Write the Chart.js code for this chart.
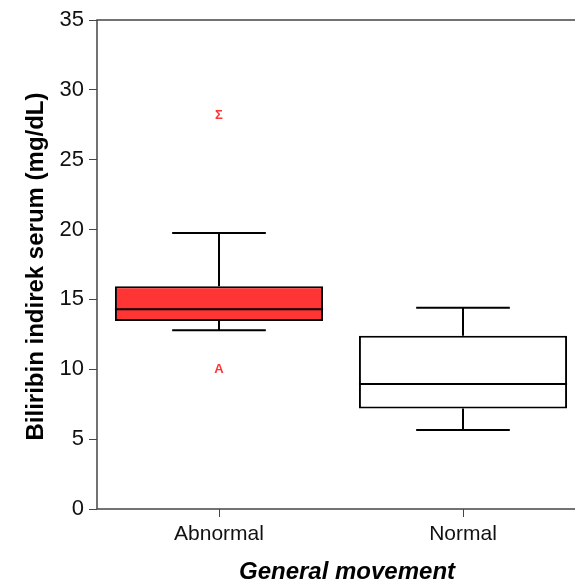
<!DOCTYPE html>
<html>
<head>
<meta charset="utf-8">
<script src="https://cdn.jsdelivr.net/npm/chart.js@4"></script>
<style>
  html, body { margin: 0; padding: 0; background: #fff; overflow: hidden; }
  canvas { display: block; }
</style>
</head>
<body>
<canvas id="js--box_chart" width="590" height="583"></canvas>
<script>
var groups = ['Abnormal', 'Normal'];
var whiskerLow = [12.8, 5.65];
var q1 = [13.45, 7.2];
var median = [14.3, 8.95];
var q3 = [15.95, 12.4];
var whiskerHigh = [19.75, 14.4];
var boxColors = ['#FF3434', '#FFFFFF'];

var outlierGroup = ['Abnormal', 'Abnormal'];
var outlierValue = [28.2, 10.0];
var outlierMark = ['Σ', 'A'];

var yTicks = [0, 5, 10, 15, 20, 25, 30, 35];

var boxes = groups.map(function (g, i) { return [q1[i], q3[i]]; });

var boxPlugin = {
    id: 'boxParts',
    afterDatasetsDraw: function (chart) {
        var ctx = chart.ctx;
        var x = chart.scales.x;
        var y = chart.scales.y;
        var meta = chart.getDatasetMeta(0);
        ctx.save();
        ctx.strokeStyle = '#000';
        ctx.lineWidth = 2;
        groups.forEach(function (g, i) {
            var bar = meta.data[i];
            var cx = x.getPixelForValue(i);
            var half = bar.width / 2;
            var cap = bar.width * 0.225;
            ctx.beginPath();
            // median
            ctx.moveTo(cx - half, y.getPixelForValue(median[i]));
            ctx.lineTo(cx + half, y.getPixelForValue(median[i]));
            // whiskers
            ctx.moveTo(cx, y.getPixelForValue(q3[i]));
            ctx.lineTo(cx, y.getPixelForValue(whiskerHigh[i]));
            ctx.moveTo(cx, y.getPixelForValue(q1[i]));
            ctx.lineTo(cx, y.getPixelForValue(whiskerLow[i]));
            // caps
            ctx.moveTo(cx - cap, y.getPixelForValue(whiskerHigh[i]));
            ctx.lineTo(cx + cap, y.getPixelForValue(whiskerHigh[i]));
            ctx.moveTo(cx - cap, y.getPixelForValue(whiskerLow[i]));
            ctx.lineTo(cx + cap, y.getPixelForValue(whiskerLow[i]));
            ctx.stroke();
        });
        ctx.fillStyle = '#FF3434';
        ctx.font = 'bold 13px "Liberation Sans", Arial, sans-serif';
        ctx.textAlign = 'center';
        ctx.textBaseline = 'middle';
        outlierValue.forEach(function (v, k) {
            var i = groups.indexOf(outlierGroup[k]);
            ctx.fillText(outlierMark[k], x.getPixelForValue(i), y.getPixelForValue(v));
        });
        ctx.restore();
    },
    afterDraw: function (chart) {
        var ctx = chart.ctx;
        var a = chart.chartArea;
        ctx.save();
        ctx.strokeStyle = '#444';
        ctx.lineWidth = 1.5;
        ctx.strokeRect(a.left, a.top, a.right - a.left, a.bottom - a.top);
        ctx.fillStyle = '#000';
        ctx.textAlign = 'center';
        ctx.textBaseline = 'alphabetic';
        ctx.font = 'bold 24px "Liberation Sans", Arial, sans-serif';
        ctx.translate(43, (a.top + a.bottom) / 2 + 2);
        ctx.rotate(-Math.PI / 2);
        ctx.fillText('Biliribin indirek serum (mg/dL)', 0, 0);
        ctx.restore();
        ctx.save();
        ctx.fillStyle = '#000';
        ctx.textAlign = 'center';
        ctx.textBaseline = 'alphabetic';
        ctx.font = 'italic bold 24px "Liberation Sans", Arial, sans-serif';
        ctx.fillText('General movement', 347, 579);
        ctx.restore();
    }
};

var cntxt = document.getElementById('js--box_chart');

var myChart = new Chart(cntxt, {
    type: 'bar',
    data: {
        labels: groups,
        datasets: [
            {
                label: 'Biliribin indirek serum',
                data: boxes,
                backgroundColor: boxColors,
                borderColor: '#000',
                borderWidth: 2,
                borderSkipped: false,
                barPercentage: 0.853,
                categoryPercentage: 1
            }
        ]
    },
    options: {
        responsive: false,
        animation: false,
        devicePixelRatio: 1,
        layout: { padding: { top: 20, right: 5, left: 0, bottom: 0 } },
        plugins: {
            legend: { display: false },
            tooltip: { enabled: false }
        },
        scales: {
            x: {
                grid: { display: true, drawOnChartArea: false, tickLength: 8, color: '#444', offset: false },
                border: { display: false },
                ticks: {
                    color: '#111',
                    padding: 5,
                    font: { family: '"Liberation Sans", Arial, sans-serif', size: 21 }
                },
                afterFit: function (s) { s.height = 74; }
            },
            y: {
                min: 0,
                max: 35,
                afterBuildTicks: function (s) {
                    s.ticks = yTicks.map(function (v) { return { value: v }; });
                },
                grid: { display: true, drawOnChartArea: false, tickLength: 8, color: '#444' },
                border: { display: false },
                ticks: {
                    autoSkip: false,
                    color: '#111',
                    padding: 5,
                    font: { family: '"Liberation Sans", Arial, sans-serif', size: 22 }
                },
                afterFit: function (s) { s.width = 97; }
            }
        }
    },
    plugins: [boxPlugin]
});
</script>
</body>
</html>
